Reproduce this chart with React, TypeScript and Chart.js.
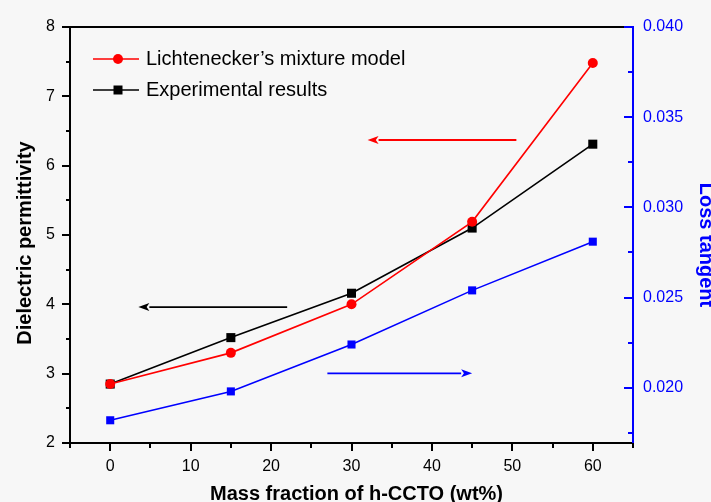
import React, { useEffect, useRef } from "react";
import { Chart, registerables } from "chart.js";

Chart.register(...registerables);

// ---- data ----
const massFraction = [0, 15, 30, 45, 60];
const lichtenecker = [2.85, 3.3, 4.0, 5.19, 7.48];
const experimental = [2.85, 3.52, 4.16, 5.1, 6.31];
const lossTangent = [0.0182, 0.0198, 0.0224, 0.0254, 0.0281];

const xMajorTicks = [0, 10, 20, 30, 40, 50, 60];
const xMinorTicks = [-5, 5, 15, 25, 35, 45, 55, 65];
const yMajorTicks = [2, 3, 4, 5, 6, 7, 8];
const yMinorTicks = [2.5, 3.5, 4.5, 5.5, 6.5, 7.5];
const y1MajorTicks = [0.02, 0.025, 0.03, 0.035, 0.04];
const y1MinorTicks = [0.0175, 0.0225, 0.0275, 0.0325, 0.0375];

// arrows: [xFrom, xTo, yValue]
const arrowBlack = [22, 3.5, 3.96];
const arrowRed = [50.5, 32, 6.37];
const arrowBlue = [27, 45, 0.0208];

const legendLabels = ["Lichtenecker\u2019s mixture model", "Experimental results"];
const xTitle = "Mass fraction of h-CCTO (wt%)";
const yTitle = "Dielectric permittivity";
const y1Title = "Loss tangent";

const FONT = '"Liberation Sans", Arial, sans-serif';
const RED = "#ff0000";
const BLUE = "#0000ff";
const BLACK = "#000000";

function drawArrow(ctx: CanvasRenderingContext2D, x1: number, x2: number, y: number, color: string) {
  const dir = x2 > x1 ? 1 : -1;
  const headLen = 11;
  const headHalf = 4;
  ctx.save();
  ctx.strokeStyle = color;
  ctx.fillStyle = color;
  ctx.lineWidth = 1.8;
  ctx.beginPath();
  ctx.moveTo(x1, y);
  ctx.lineTo(x2 - dir * headLen, y);
  ctx.stroke();
  ctx.beginPath();
  ctx.moveTo(x2, y);
  ctx.lineTo(x2 - dir * headLen, y - headHalf);
  ctx.lineTo(x2 - dir * headLen * 0.75, y);
  ctx.lineTo(x2 - dir * headLen, y + headHalf);
  ctx.closePath();
  ctx.fill();
  ctx.restore();
}

const decorPlugin = {
  id: "decor",
  beforeDraw(chart: any) {
    const ctx = chart.ctx;
    ctx.save();
    ctx.fillStyle = "#f7f7f7";
    ctx.fillRect(0, 0, chart.width, chart.height);
    ctx.restore();
  },
  afterDraw(chart: any) {
    const ctx: CanvasRenderingContext2D = chart.ctx;
    const { left, right, top, bottom } = chart.chartArea;
    const sx = chart.scales.x;
    const sy = chart.scales.y;
    const sy1 = chart.scales.y1;

    ctx.save();
    // top frame line
    ctx.strokeStyle = BLACK;
    ctx.lineWidth = 2;
    ctx.beginPath();
    ctx.moveTo(left, top);
    ctx.lineTo(right, top);
    ctx.stroke();

    // x ticks
    ctx.lineWidth = 2;
    ctx.strokeStyle = BLACK;
    xMajorTicks.forEach((v) => {
      const px = Math.round(sx.getPixelForValue(v));
      ctx.beginPath();
      ctx.moveTo(px, bottom);
      ctx.lineTo(px, bottom + 8);
      ctx.stroke();
    });
    xMinorTicks.forEach((v) => {
      const px = Math.round(sx.getPixelForValue(v));
      ctx.beginPath();
      ctx.moveTo(px, bottom);
      ctx.lineTo(px, bottom + 5);
      ctx.stroke();
    });
    // left y ticks
    yMajorTicks.forEach((v) => {
      const py = Math.round(sy.getPixelForValue(v));
      ctx.beginPath();
      ctx.moveTo(left - 8, py);
      ctx.lineTo(left, py);
      ctx.stroke();
    });
    yMinorTicks.forEach((v) => {
      const py = Math.round(sy.getPixelForValue(v));
      ctx.beginPath();
      ctx.moveTo(left - 4, py);
      ctx.lineTo(left, py);
      ctx.stroke();
    });
    // right y ticks (inward)
    ctx.strokeStyle = BLUE;
    y1MajorTicks.forEach((v) => {
      const py = Math.round(sy1.getPixelForValue(v));
      ctx.beginPath();
      ctx.moveTo(right - 9, py);
      ctx.lineTo(right, py);
      ctx.stroke();
    });
    y1MinorTicks.forEach((v) => {
      const py = Math.round(sy1.getPixelForValue(v));
      ctx.beginPath();
      ctx.moveTo(right - 5, py);
      ctx.lineTo(right, py);
      ctx.stroke();
    });

    // arrows
    drawArrow(ctx, sx.getPixelForValue(arrowBlack[0]), sx.getPixelForValue(arrowBlack[1]), sy.getPixelForValue(arrowBlack[2]), BLACK);
    drawArrow(ctx, sx.getPixelForValue(arrowRed[0]), sx.getPixelForValue(arrowRed[1]), sy.getPixelForValue(arrowRed[2]), RED);
    drawArrow(ctx, sx.getPixelForValue(arrowBlue[0]), sx.getPixelForValue(arrowBlue[1]), sy1.getPixelForValue(arrowBlue[2]), BLUE);

    // legend
    const lx0 = left + 23;
    const lx1 = left + 69;
    const lm = left + 48;
    const ly = [top + 32, top + 63];
    const colors = [RED, BLACK];
    ctx.font = `20px ${FONT}`;
    ctx.textBaseline = "middle";
    ctx.textAlign = "left";
    legendLabels.forEach((lab, i) => {
      ctx.strokeStyle = colors[i];
      ctx.fillStyle = colors[i];
      ctx.lineWidth = 1.6;
      ctx.beginPath();
      ctx.moveTo(lx0, ly[i]);
      ctx.lineTo(lx1, ly[i]);
      ctx.stroke();
      ctx.beginPath();
      if (i === 0) {
        ctx.arc(lm, ly[i], 5, 0, Math.PI * 2);
      } else {
        ctx.rect(lm - 4.5, ly[i] - 4.5, 9, 9);
      }
      ctx.fill();
      ctx.fillStyle = BLACK;
      ctx.fillText(lab, left + 76, ly[i]);
    });

    // axis titles
    ctx.font = `bold 20px ${FONT}`;
    ctx.fillStyle = BLACK;
    ctx.textBaseline = "alphabetic";
    ctx.textAlign = "center";
    ctx.fillText(xTitle, (left + right) / 2 + 5, bottom + 57);

    ctx.save();
    ctx.translate(left - 39, (top + bottom) / 2 + 8);
    ctx.rotate(-Math.PI / 2);
    ctx.fillText(yTitle, 0, 0);
    ctx.restore();

    ctx.save();
    ctx.fillStyle = BLUE;
    ctx.translate(right + 67, (top + bottom) / 2 + 10);
    ctx.rotate(Math.PI / 2);
    ctx.fillText(y1Title, 0, 0);
    ctx.restore();

    ctx.restore();
  },
};

const setTicks = (values: number[]) => (s: any) => {
  s.ticks = values.map((value) => ({ value }));
};

export default function App() {
  const ref = useRef<HTMLCanvasElement | null>(null);
  useEffect(() => {
    if (!ref.current) return;
    const chart = new Chart(ref.current, {
      type: "line",
      data: {
        datasets: [
          {
            label: legendLabels[0],
            data: massFraction.map((x, i) => ({ x, y: lichtenecker[i] })),
            borderColor: RED,
            backgroundColor: RED,
            borderWidth: 1.6,
            pointStyle: "circle",
            pointRadius: 5,
            pointBorderWidth: 0,
            yAxisID: "y",
          },
          {
            label: legendLabels[1],
            data: massFraction.map((x, i) => ({ x, y: experimental[i] })),
            borderColor: BLACK,
            backgroundColor: BLACK,
            borderWidth: 1.6,
            pointStyle: "rect",
            pointRadius: 6.4,
            pointBorderWidth: 0,
            yAxisID: "y",
          },
          {
            label: "Loss tangent",
            data: massFraction.map((x, i) => ({ x, y: lossTangent[i] })),
            borderColor: BLUE,
            backgroundColor: BLUE,
            borderWidth: 1.6,
            pointStyle: "rect",
            pointRadius: 5.7,
            pointBorderWidth: 0,
            yAxisID: "y1",
          },
        ],
      },
      options: {
        responsive: false,
        animation: false,
        devicePixelRatio: 1,
        layout: { padding: { top: 27, left: 0, right: 0, bottom: 0 } },
        plugins: {
          legend: { display: false },
          tooltip: { enabled: false },
        },
        scales: {
          x: {
            type: "linear",
            position: "bottom",
            min: -5,
            max: 65,
            afterBuildTicks: setTicks(xMajorTicks),
            afterFit: (s: any) => {
              s.height = 59;
            },
            grid: { display: false, drawTicks: false },
            border: { display: true, color: BLACK, width: 2 },
            ticks: {
              padding: 14,
              color: BLACK,
              font: { family: FONT, size: 16 },
              maxRotation: 0,
              autoSkip: false,
            },
          },
          y: {
            type: "linear",
            position: "left",
            min: 2,
            max: 8,
            afterBuildTicks: setTicks(yMajorTicks),
            afterFit: (s: any) => {
              s.width = 70;
            },
            grid: { display: false, drawTicks: false },
            border: { display: true, color: BLACK, width: 2 },
            ticks: {
              padding: 15,
              color: BLACK,
              font: { family: FONT, size: 16 },
              autoSkip: false,
            },
          },
          y1: {
            type: "linear",
            position: "right",
            min: 0.01694,
            max: 0.04,
            afterBuildTicks: setTicks(y1MajorTicks),
            afterFit: (s: any) => {
              s.width = 78;
            },
            grid: { display: false, drawTicks: false },
            border: { display: true, color: BLUE, width: 2 },
            ticks: {
              padding: 10,
              color: BLUE,
              autoSkip: false,
              font: { family: FONT, size: 16 },
              callback: (v: any) => Number(v).toFixed(3),
            },
          },
        },
      },
      plugins: [decorPlugin],
    } as any);
    return () => chart.destroy();
  }, []);

  return (
    <div style={{ position: "fixed", left: 0, top: 0, width: 711, height: 502 }}>
      <canvas ref={ref} width={711} height={502} style={{ display: "block" }} />
    </div>
  );
}
